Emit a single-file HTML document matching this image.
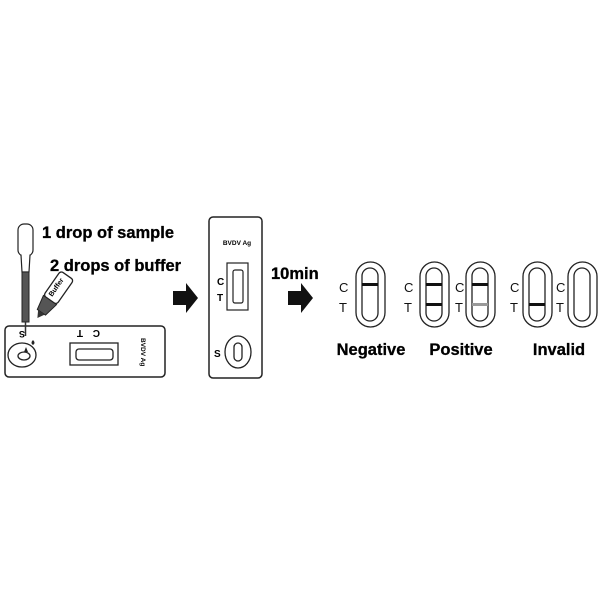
<!DOCTYPE html>
<html><head><style>html,body{margin:0;padding:0;background:#fff}svg{display:block}</style></head>
<body>
<svg width="600" height="600" viewBox="0 0 600 600" xmlns="http://www.w3.org/2000/svg" font-family="Liberation Sans, sans-serif">
<rect width="600" height="600" fill="#fff"/>
<!-- left cassette -->
<rect x="5" y="326" width="160" height="51" rx="4" fill="#fff" stroke="#222" stroke-width="1.5"/>
<ellipse cx="22" cy="355" rx="14" ry="12" fill="none" stroke="#222" stroke-width="1.3"/>
<ellipse cx="24" cy="356" rx="6" ry="4" fill="none" stroke="#222" stroke-width="1.3"/>
<path d="M26 347 l-2 5 l4 0 z" fill="#222"/>
<path d="M33 340 q-3 3 0 5 q3 -2 0 -5z" fill="#222"/>
<text x="25" y="337" font-size="9" font-weight="bold" transform="rotate(180 25 334)">S</text>
<rect x="70" y="343" width="48" height="22" fill="#fff" stroke="#222" stroke-width="1.3"/>
<rect x="76" y="349" width="37" height="11" rx="3" fill="#fff" stroke="#222" stroke-width="1.3"/>
<text x="83" y="336" font-size="10" font-weight="bold" transform="rotate(180 83 333)">T</text>
<text x="100" y="336" font-size="10" font-weight="bold" transform="rotate(180 100 333)">C</text>
<text x="141" y="338" font-size="6.5" font-weight="bold" transform="rotate(90 141 338)">BVDV Ag</text>
<!-- dropper -->
<rect x="18" y="224" width="15" height="32" rx="6" fill="#fff" stroke="#222" stroke-width="1.2"/>
<path d="M21 255 L22 272 L29 272 L30 255" fill="#fff" stroke="#222" stroke-width="1.2"/>
<rect x="22" y="272" width="7" height="50" fill="#555" stroke="#222"/>
<line x1="25.5" y1="322" x2="25.5" y2="336" stroke="#333" stroke-width="1.5"/>
<!-- buffer bottle -->
<g transform="rotate(35 50 300)">
<rect x="42" y="270" width="16" height="30" rx="3" fill="#fff" stroke="#222" stroke-width="1.3"/>
<path d="M42 300 L58 300 L55 315 L45 315 Z" fill="#555" stroke="#222"/>
<path d="M46 315 L54 315 L50 322 Z" fill="#333"/>
<text x="50" y="286" font-size="7" font-weight="bold" text-anchor="middle" transform="rotate(-90 50 286)">Buffer</text>
</g>
<text x="42" y="238" font-size="16.5" font-weight="bold" stroke="#000" stroke-width="0.3">1 drop of sample</text>
<text x="50" y="271" font-size="16.5" font-weight="bold" stroke="#000" stroke-width="0.3">2 drops of buffer</text>
<!-- arrows -->
<path d="M173 291 H186 V283 L198 298 L186 313 V305 H173 Z" fill="#111"/>
<path d="M288 291 H301 V283 L313 298 L301 313 V305 H288 Z" fill="#111"/>
<!-- middle cassette -->
<rect x="209" y="217" width="53" height="161" rx="4" fill="#fff" stroke="#222" stroke-width="1.5"/>
<text x="237" y="245" font-size="6.5" font-weight="bold" text-anchor="middle">BVDV Ag</text>
<rect x="227" y="263" width="21" height="47" fill="#fff" stroke="#222" stroke-width="1.2"/>
<rect x="233" y="270" width="10" height="33" rx="2" fill="#fff" stroke="#222" stroke-width="1.2"/>
<text x="217" y="285" font-size="10" font-weight="bold">C</text>
<text x="217" y="301" font-size="10" font-weight="bold">T</text>
<ellipse cx="238" cy="352" rx="13" ry="16" fill="none" stroke="#222" stroke-width="1.3"/>
<rect x="234" y="343" width="8" height="18" rx="4" fill="none" stroke="#222" stroke-width="1.3"/>
<text x="214" y="357" font-size="10" font-weight="bold">S</text>
<text x="271" y="279" font-size="16.5" font-weight="bold" stroke="#000" stroke-width="0.3">10min</text>
<!-- result pills -->
<g stroke="#222" stroke-width="1.3" fill="#fff">
<rect x="356" y="262" width="29" height="65" rx="14.5"/><rect x="362" y="268" width="16" height="53" rx="8"/>
<rect x="420" y="262" width="29" height="65" rx="14.5"/><rect x="426" y="268" width="16" height="53" rx="8"/>
<rect x="466" y="262" width="29" height="65" rx="14.5"/><rect x="472" y="268" width="16" height="53" rx="8"/>
<rect x="523" y="262" width="29" height="65" rx="14.5"/><rect x="529" y="268" width="16" height="53" rx="8"/>
<rect x="568" y="262" width="29" height="65" rx="14.5"/><rect x="574" y="268" width="16" height="53" rx="8"/>
</g>
<g fill="#111">
<rect x="362" y="283" width="16" height="3"/>
<rect x="426" y="283" width="16" height="3"/><rect x="426" y="303" width="16" height="3"/>
<rect x="472" y="283" width="16" height="3"/>
<rect x="529" y="303" width="16" height="3"/>
</g>
<rect x="472" y="303" width="16" height="3" fill="#999"/>
<g font-size="13" fill="#111">
<text x="339" y="292">C</text><text x="339" y="312">T</text>
<text x="404" y="292">C</text><text x="404" y="312">T</text>
<text x="455" y="292">C</text><text x="455" y="312">T</text>
<text x="510" y="292">C</text><text x="510" y="312">T</text>
<text x="556" y="292">C</text><text x="556" y="312">T</text>
</g>
<g font-size="16.5" font-weight="bold" text-anchor="middle" stroke="#000" stroke-width="0.3">
<text x="371" y="355">Negative</text>
<text x="461" y="355">Positive</text>
<text x="559" y="355">Invalid</text>
</g>
</svg>
</body></html>
